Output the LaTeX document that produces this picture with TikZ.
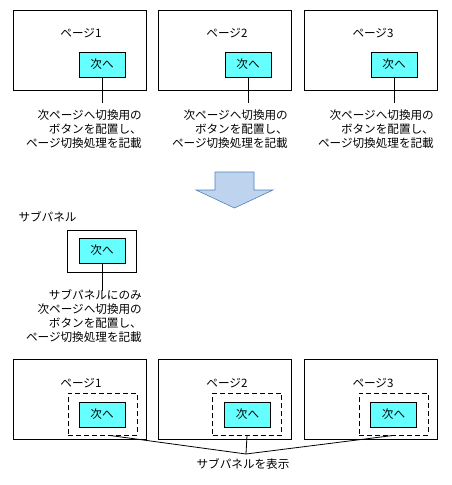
\documentclass[tikz,border=0pt]{standalone}
\usepackage{fontspec}
\setmainfont{Noto Sans CJK JP}
\usetikzlibrary{positioning}
\definecolor{btncyan}{RGB}{102, 255, 255}
\definecolor{arrowfill}{RGB}{190, 212, 238}
\definecolor{arrowline}{RGB}{79, 129, 189}

\tikzset{
    page/.style={draw, line width=0.8pt, minimum width=133pt, minimum height=80pt, inner sep=0pt},
    button/.style={draw, line width=0.8pt, fill=btncyan, minimum width=46pt, minimum height=25pt, inner sep=0pt},
    subpanel/.style={draw, line width=0.8pt, minimum width=69pt, minimum height=42pt, inner sep=0pt},
    shown/.style={dash pattern=on 5pt off 3pt},
    note/.style={align=right, inner sep=0pt},
    link/.style={line width=0.8pt}
}

\begin{document}
\begin{tikzpicture}[x=1pt, y=-1pt, font=\fontsize{11.6}{14}\selectfont]
    % Fundo
    \useasboundingbox (0,0) rectangle (452,485);

    % Linha de cima: paginas com botao
    \node[page] (p1) at (79.5,50) {};
    \node[page] (p2) at (225,50) {};
    \node[page] (p3) at (371,50) {};
    \node at (81,33) {ページ1};
    \node at (227,33) {ページ2};
    \node at (373,33) {ページ3};
    \node[button] (b1) at (102,64.5) {次へ};
    \node[button] (b2) at (248,64.5) {次へ};
    \node[button] (b3) at (394,64.5) {次へ};

    % Notas das paginas
    \coordinate (c1) at (102,103);
    \coordinate (c2) at (248,103);
    \coordinate (c3) at (394,103);
    \draw[link] (b1) -- (c1);
    \draw[link] (b2) -- (c2);
    \draw[link] (b3) -- (c3);
    \node[note, anchor=north east] (n1) at (142,110) {次ページへ切換用の\\ボタンを配置し、\\ページ切換処理を記載};
    \node[note, anchor=north east] (n2) at (288,110) {次ページへ切換用の\\ボタンを配置し、\\ページ切換処理を記載};
    \node[note, anchor=north east] (n3) at (434,110) {次ページへ切換用の\\ボタンを配置し、\\ページ切換処理を記載};

    % Seta grande
    \filldraw[fill=arrowfill, draw=arrowline, line width=0.6pt]
        (215,172) -- (254,172) -- (254,190) -- (273,190) -- (234.5,208)
        -- (196,190) -- (215,190) -- cycle;

    % Subpainel
    \node[anchor=west] (title) at (15,217) {サブパネル};
    \node[subpanel] (sp) at (101.5,251) {};
    \node[button] (sb) at (102,250.5) {次へ};
    \coordinate (sc) at (102,291);
    \draw[link] (sb) -- (sc);
    \node[note, anchor=north east] (sn) at (142,289) {サブパネルにのみ\\次ページへ切換用の\\ボタンを配置し、\\ページ切換処理を記載};

    % Linha de baixo: paginas com subpainel
    \node[page] (q1) at (79.5,399) {};
    \node[page] (q2) at (225,399) {};
    \node[page] (q3) at (371,399) {};
    \node at (81,383) {ページ1};
    \node at (227,383) {ページ2};
    \node at (373,383) {ページ3};
    \node[subpanel, shown] (s1) at (102.5,414) {};
    \node[subpanel, shown] (s2) at (247,414) {};
    \node[subpanel, shown] (s3) at (393.5,414) {};
    \node[button] (d1) at (102,414.5) {次へ};
    \node[button] (d2) at (247.5,414.5) {次へ};
    \node[button] (d3) at (393.5,414.5) {次へ};

    % Rotulo comum
    \coordinate (j) at (246,454);
    \draw[link] ([xshift=7pt]s1.south) -- (j);
    \draw[link] (s2.south) -- (j);
    \draw[link] (s3.south) -- (j);
    \node (show) at (243,464) {サブパネルを表示};
\end{tikzpicture}
\end{document}
